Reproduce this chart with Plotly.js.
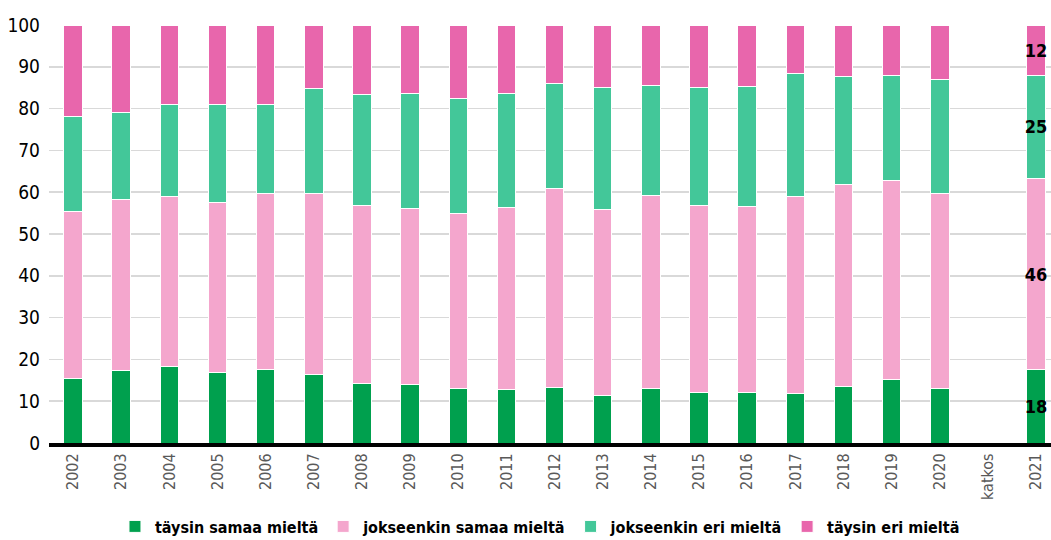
<!DOCTYPE html>
<html>
<head>
<meta charset="utf-8">
<script src="https://cdn.plot.ly/plotly-3.0.1.min.js"></script>
<style>html,body{margin:0;padding:0;background:#fff;}#chart{width:1051px;height:540px;}</style>
</head>
<body>
<div id="chart"></div>
<script>
const years = ['2002','2003','2004','2005','2006','2007','2008','2009','2010','2011','2012','2013','2014','2015','2016','2017','2018','2019','2020','katkos','2021'];
const seriesNames = ['täysin samaa mieltä','jokseenkin samaa mieltä','jokseenkin eri mieltä','täysin eri mieltä'];
const taysinSamaa =     [15.4,17.3,18.2,16.8,17.5,16.3,14.3,13.9,13.1,12.7,13.2,11.3,13.0,12.0,12.0,11.9,13.5,15.1,13.1,null,17.5];
const jokseenkinSamaa = [40.0,40.9,40.8,40.7,42.1,43.5,42.4,42.2,41.8,43.6,47.6,44.6,46.3,44.7,44.5,47.0,48.4,47.6,46.7,null,45.7];
const jokseenkinEri =   [22.6,20.9,22.1,23.4,21.5,25.0,26.6,27.6,27.5,27.4,25.3,29.2,26.2,28.3,28.7,29.5,25.7,25.3,27.1,null,24.8];
const taysinEri =       [22.0,20.9,18.9,19.1,18.9,15.2,16.7,16.3,17.6,16.3,13.9,14.9,14.5,15.0,14.8,11.6,12.4,12.0,13.1,null,12.0];
const labelledYears = ['2021'];
const colors = ['#00a04e','#f4a6cd','#43c799','#e866ac'];

const allSeries = [taysinSamaa, jokseenkinSamaa, jokseenkinEri, taysinEri];
const condensed = '"DejaVu Sans Condensed", "DejaVu Sans", sans-serif';
const labelFont = {family:condensed, size:18, color:'#000', weight:'bold'};

const traces = allSeries.map((vals, i) => ({
  type:'bar',
  name: seriesNames[i],
  x: years,
  y: vals,
  marker:{color:colors[i], line:{color:'#ffffff', width:1}},
  text: vals.map((v, j) => (labelledYears.includes(years[j]) && v != null) ? String(Math.round(v)) : ''),
  textposition:'inside',
  insidetextanchor:'middle',
  textangle:0,
  constraintext:'none',
  textfont: labelFont,
  insidetextfont: labelFont,
  cliponaxis:false,
  hoverinfo:'skip'
}));

const layout = {
  width:1051, height:540,
  margin:{l:49, r:0, t:25, b:97, autoexpand:false},
  barmode:'stack',
  bargap:0.616,
  paper_bgcolor:'#ffffff',
  plot_bgcolor:'#ffffff',
  showlegend:true,
  legend:{
    orientation:'h', xref:'paper', x:0.49, xanchor:'center',
    yref:'container', y:0.025, yanchor:'middle',
    font:{family:condensed, size:16, color:'#000', weight:'bold'},
    itemwidth:30, traceorder:'normal'
  },
  xaxis:{
    type:'category',
    range:[-0.5, 20.31],
    tickangle:-90,
    tickfont:{family:condensed, size:16, color:'#595959'},
    showgrid:false,
    showline:true, linecolor:'#000', linewidth:4,
    ticks:'', fixedrange:true, automargin:false
  },
  yaxis:{
    range:[0,100],
    dtick:10,
    tick0:0,
    showgrid:true, gridcolor:'#d9d9d9', gridwidth:1.5,
    zeroline:false,
    tickfont:{family:condensed, size:19, color:'#000'},
    ticks:'', ticklabelstandoff:8, fixedrange:true, automargin:false
  }
};

Plotly.newPlot('chart', traces, layout, {displayModeBar:false, staticPlot:true});
</script>
</body>
</html>
